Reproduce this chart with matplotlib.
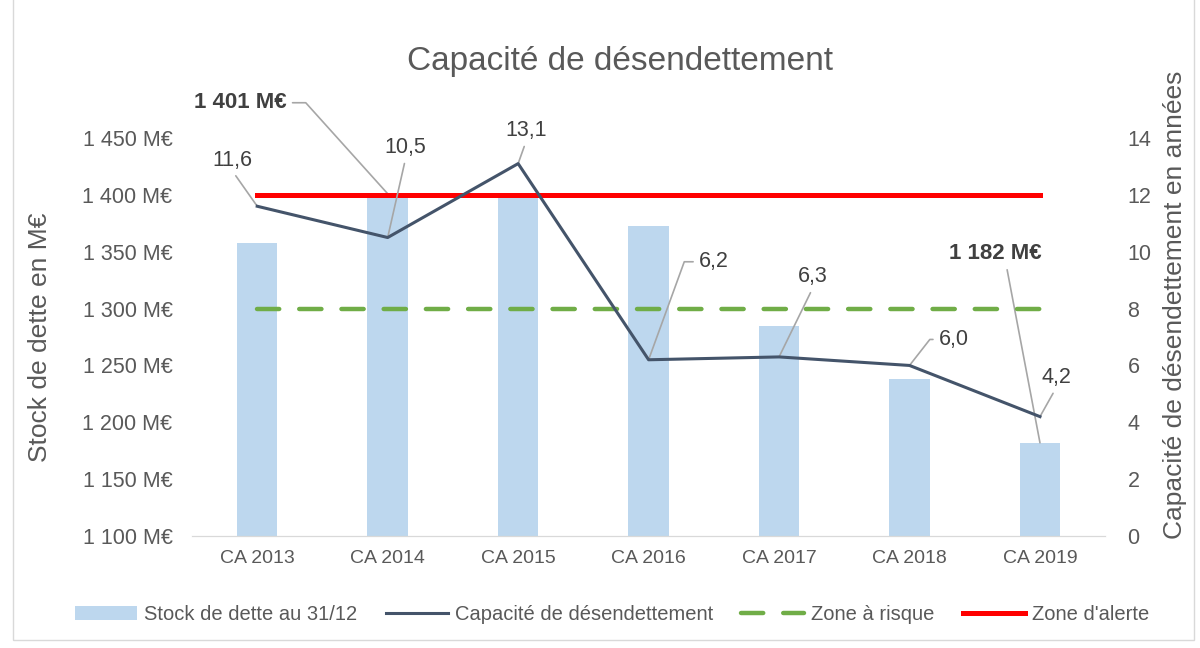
import matplotlib.pyplot as plt
from matplotlib.patches import Rectangle

plt.rcParams['font.family'] = ['Liberation Sans', 'DejaVu Sans']

# data
categories = ['CA 2013', 'CA 2014', 'CA 2015', 'CA 2016', 'CA 2017', 'CA 2018', 'CA 2019']
stock_dette = [1358, 1401, 1397, 1373, 1285, 1238, 1182]
capacite = [11.6, 10.5, 13.1, 6.2, 6.3, 6.0, 4.2]
zone_risque = [8] * 7
zone_alerte = [12] * 7
left_ticks = [1100, 1150, 1200, 1250, 1300, 1350, 1400, 1450]
right_ticks = [0, 2, 4, 6, 8, 10, 12, 14]

grey = '#595959'
x = list(range(len(categories)))

fig = plt.figure(figsize=(12, 6.48), dpi=100)
ax = fig.add_axes([0.16, 0.1728, 0.761, 0.6142])
ax2 = ax.twinx()

bars = ax.bar(x, stock_dette, width=0.31, color='#BDD7EE', label='Stock de dette au 31/12')
ax.set_ylim(1100, 1450)
ax.set_xlim(-0.5, 6.5)
ax.set_yticks(left_ticks)
ax.set_yticklabels([f'{v // 1000} {v % 1000:03d} M€' for v in left_ticks])
ax.set_xticks(x)
ax.set_xticklabels(categories)
ax.set_ylabel('Stock de dette en M€', fontsize=19, color=grey)
ax.yaxis.set_label_coords(-0.153, 0.5)

line, = ax2.plot(x, capacite, color='#44546A', lw=2.2, label='Capacité de désendettement', zorder=4)
risque, = ax2.plot(x, zone_risque, color='#70AD47', lw=3.2, dashes=(5, 4.5),
                   dash_capstyle='round', label='Zone à risque', zorder=3)
alerte, = ax2.plot(x, zone_alerte, color='#FF0000', lw=3.6, label="Zone d'alerte", zorder=3)
ax2.set_ylim(0, 14)
ax2.set_yticks(right_ticks)
ax2.set_ylabel('Capacité de désendettement en années', fontsize=19, color=grey)
ax2.yaxis.set_label_coords(1.0635, 0.58)

for a in (ax, ax2):
    for s in ('top', 'left', 'right'):
        a.spines[s].set_visible(False)
    a.spines['bottom'].set_color('#D9D9D9')
    a.tick_params(length=0, colors=grey, labelsize=15.5)
ax.tick_params(axis='x', labelsize=14, pad=10)
ax.tick_params(axis='y', pad=14)
ax2.tick_params(axis='y', pad=16)

fig.text(0.517, 0.905, 'Capacité de désendettement', ha='center', va='center',
         fontsize=24, color=grey)

# data labels with leader lines
lead = dict(arrowstyle='-', color='#A6A6A6', lw=1.2, shrinkA=2, shrinkB=0)
line_offsets = [(-25, 46), (18, 90), (8, 33), (65, 98), (34, 80), (44, 26), (16, 39)]
for i, (v, off) in enumerate(zip(capacite, line_offsets)):
    props = dict(lead)
    if i in (3, 5):
        ang = 70 if i == 3 else 52
        props.update(connectionstyle=f'angle,angleA=180,angleB={ang},rad=0', relpos=(0, 0.5))
    else:
        props.update(relpos=(0.5, 0))
    ax2.annotate(f'{v:.1f}'.replace('.', ','), xy=(i, v), xytext=off,
                 textcoords='offset pixels', ha='center', va='center',
                 fontsize=15.5, color='#404040', arrowprops=props)

for i, off, ang in [(1, (-147, 91), -48), (6, (-45, 189), None)]:
    v = stock_dette[i]
    props = dict(lead)
    if ang is not None:
        props.update(connectionstyle=f'angle,angleA=0,angleB={ang},rad=0', relpos=(1, 0.5))
    else:
        props.update(relpos=(0.62, 0))
    ax.annotate(f'{v // 1000} {v % 1000:03d} M€', xy=(i, v), xytext=off,
                textcoords='offset pixels', ha='center', va='center',
                fontsize=16, fontweight='bold', color='#404040', arrowprops=props)

fig.legend(handles=[bars, line, risque, alerte], loc='center', bbox_to_anchor=(0.51, 0.051),
           ncol=4, frameon=False, fontsize=14.5, labelcolor=grey,
           handlelength=3.1, handletextpad=0.35, columnspacing=1.4)

fig.patches.append(Rectangle((0.011, 0.012), 0.984, 1.1, transform=fig.transFigure,
                             fill=False, edgecolor='#D9D9D9', lw=1))

fig.savefig('out.png', dpi=100)
